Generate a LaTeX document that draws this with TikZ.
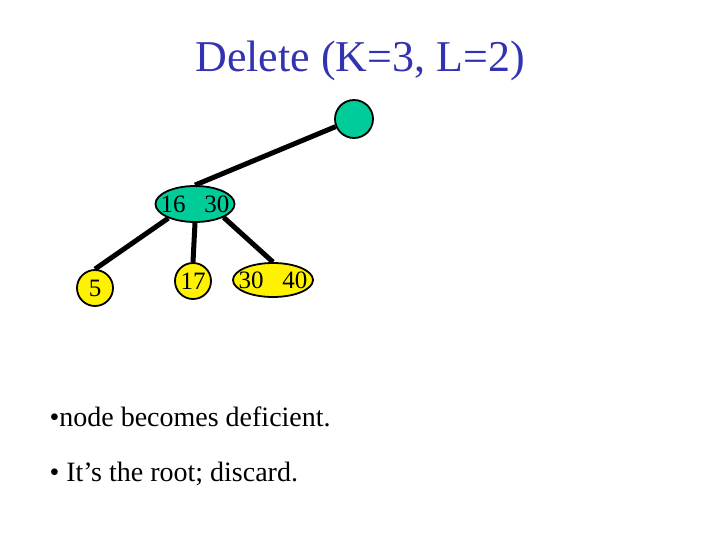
\documentclass[tikz,border=0pt]{standalone}
\usepackage{fontspec}
\setmainfont{Liberation Serif}
\usetikzlibrary{positioning, shapes.geometric}

\definecolor{titleblue}{RGB}{51,51,178}
\definecolor{nodegreen}{RGB}{0,204,153}

\begin{document}
\begin{tikzpicture}[
    x=1pt, y=-1pt,
    keynode/.style={draw=black, line width=1.8pt, inner sep=0pt, font=\fontsize{25}{25}\selectfont},
    inner/.style={keynode, fill=nodegreen},
    leaf/.style={keynode, fill=yellow},
    one/.style={circle, minimum size=36pt},
    two/.style={ellipse, minimum width=79pt, minimum height=36pt},
    edge/.style={line width=5pt, black},
    bullet/.style={anchor=base west, font=\fontsize{28}{28}\selectfont},
]
\useasboundingbox (0,0) rectangle (720,540);

% Title
\node[anchor=base, text=titleblue, font=\fontsize{44}{44}\selectfont] (title) at (360,72) {Delete (K=3, L=2)};

% Tree
\node[inner, one, minimum size=38pt] (root) at (354,119) {};
\node[inner, two] (p) at (195,204) {\makebox[0pt]{16\hspace{0.75em}30}};

\node[leaf, one] (l5) at (95,288) {\makebox[0pt]{5}};
\node[leaf, one] (l17) at (193,281) {\makebox[0pt]{17}};
\node[leaf, two, minimum width=80pt, minimum height=34pt] (l3) at (273,280) {\makebox[0pt]{30\hspace{0.75em}40}};

% Edges
\draw[edge] (root) -- (p.north);
\draw[edge] (p.-152) -- (l5.north);
\draw[edge] (p.south) -- (l17.north);
\draw[edge] (p.-25) -- (l3.north);

% Bullets
\node[bullet] (b1) at (46,426) {•node becomes deficient.};
\node[bullet] (b2) at (46,481) {• It’s the root; discard.};

\end{tikzpicture}
\end{document}
